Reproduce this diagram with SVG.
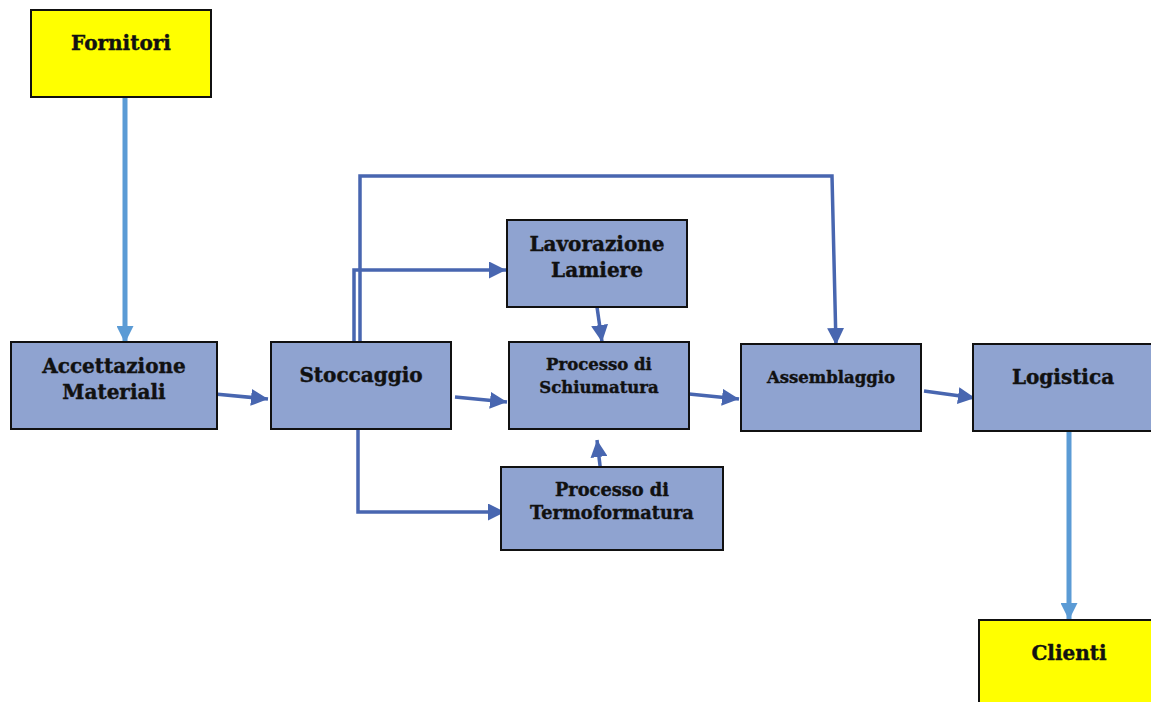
<svg xmlns="http://www.w3.org/2000/svg" width="1151" height="702" viewBox="0 0 1151 702">
<style>
.box{fill:#8fa3d0;stroke:#111;stroke-width:2}
.yel{fill:#ffff00;stroke:#111;stroke-width:2}
text{font-family:"DejaVu Serif","Liberation Serif",serif;font-weight:bold;fill:#111;stroke:#111;stroke-width:0.4;text-anchor:middle}
.t18{font-size:20px}
.t15{font-size:16.5px}
.t16{font-size:17.8px}
.dk{stroke:#4866b0;fill:none;stroke-width:3.5}
.lt{stroke:#5b9bd5;fill:none;stroke-width:5}
</style>
<defs>
<marker id="adk" viewBox="0 0 10 10" refX="10" refY="5" markerWidth="17" markerHeight="17" markerUnits="userSpaceOnUse" orient="auto"><path d="M0,0 L10,5 L0,10 z" fill="#4866b0"/></marker>
<marker id="al" viewBox="0 0 10 10" refX="10" refY="5" markerWidth="17" markerHeight="17" markerUnits="userSpaceOnUse" orient="auto"><path d="M0,0 L10,5 L0,10 z" fill="#5b9bd5"/></marker>
</defs>
<g id="connectors">
<path class="lt" d="M125,97 L125,343" marker-end="url(#al)"/>
<path class="lt" d="M1069,431 L1069,620" marker-end="url(#al)"/>
<path class="dk" d="M215,394 L268,399" marker-end="url(#adk)"/>
<path class="dk" d="M360,352 L360,176 L832,176 L836,345" marker-end="url(#adk)"/>
<path class="dk" d="M354,352 L354,270 L506,270" marker-end="url(#adk)"/>
<path class="dk" d="M597,307 L602,342" marker-end="url(#adk)"/>
<path class="dk" d="M455,397 L507,402" stroke-width="5" marker-end="url(#adk)"/>
<path class="dk" d="M689,394 L739,399" marker-end="url(#adk)"/>
<path class="dk" d="M924,391 L975,398" marker-end="url(#adk)"/>
<path class="dk" d="M358,430 L358,512 L505,512" marker-end="url(#adk)"/>
<path class="dk" d="M601,474 L597,440" marker-end="url(#adk)"/>
</g>
<g id="fornitori"><rect class="yel" x="31" y="10" width="180" height="87"/><text class="t18" x="121" y="50">Fornitori</text></g>
<g id="accettazione"><rect class="box" x="11" y="342" width="206" height="87"/><text class="t18" x="114" y="373">Accettazione</text><text class="t18" x="114" y="399">Materiali</text></g>
<g id="stoccaggio"><rect class="box" x="271" y="342" width="180" height="87"/><text class="t18" x="361" y="382">Stoccaggio</text></g>
<g id="lavorazione"><rect class="box" x="507" y="220" width="180" height="87"/><text class="t18" x="597" y="251">Lavorazione</text><text class="t18" x="597" y="277">Lamiere</text></g>
<g id="schiumatura"><rect class="box" x="509" y="342" width="180" height="87"/><text class="t15" x="599" y="370">Processo di</text><text class="t15" x="599" y="393">Schiumatura</text></g>
<g id="termoformatura"><rect class="box" x="501" y="467" width="222" height="83"/><text class="t16" x="612" y="496">Processo di</text><text class="t16" x="612" y="519">Termoformatura</text></g>
<g id="assemblaggio"><rect class="box" x="741" y="344" width="180" height="87"/><text class="t15" x="831" y="383">Assemblaggio</text></g>
<g id="logistica"><rect class="box" x="973" y="344" width="190" height="87"/><text class="t18" x="1063" y="384">Logistica</text></g>
<g id="clienti"><rect class="yel" x="979" y="620" width="190" height="90"/><text class="t18" x="1069" y="660">Clienti</text></g>
</svg>
